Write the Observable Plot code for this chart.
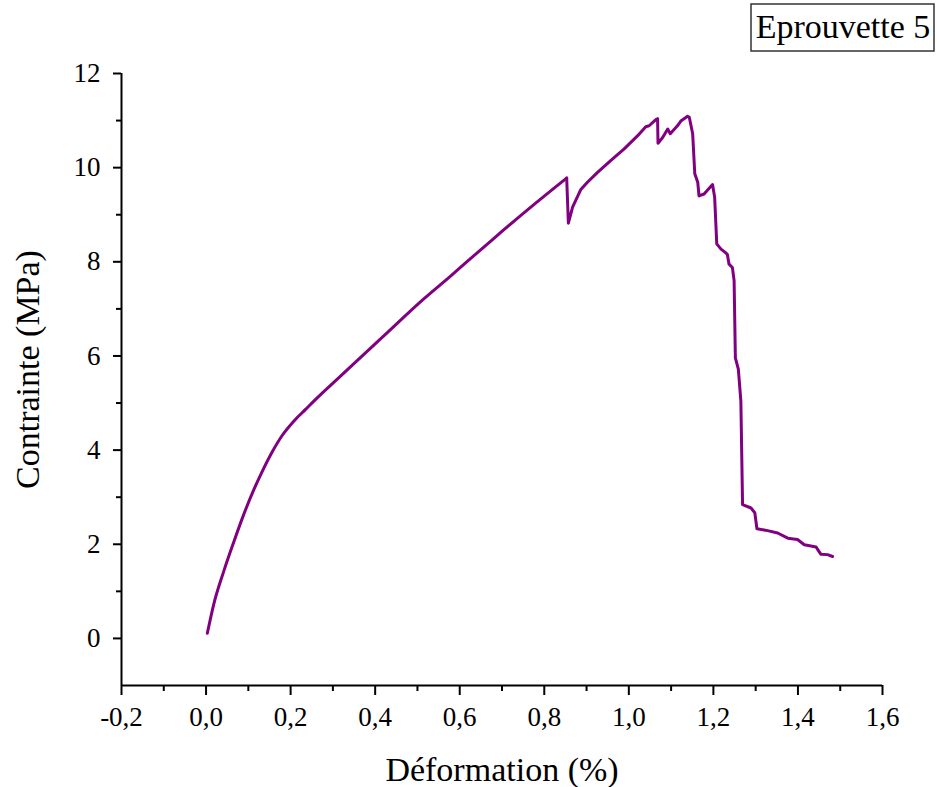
<!DOCTYPE html>
<html>
<head>
<meta charset="utf-8">
<script src="https://cdn.jsdelivr.net/npm/d3@7"></script>
<script src="https://cdn.jsdelivr.net/npm/@observablehq/plot@0.6"></script>
<style>
  body { margin: 0; background: #fff; }
  #chart { position: relative; width: 937px; height: 787px; }
</style>
</head>
<body>
<div id="chart"></div>
<script>
// smooth loading branch (up to first peak)
const strainRise = [0.003, 0.018, 0.042, 0.066, 0.089, 0.113, 0.133, 0.157, 0.180, 0.208, 0.236, 0.255, 0.318, 0.421, 0.515, 0.579, 0.622, 0.681, 0.776, 0.853];
const stressRise = [0.11, 0.72, 1.43, 2.06, 2.63, 3.16, 3.55, 3.97, 4.31, 4.62, 4.87, 5.04, 5.57, 6.43, 7.21, 7.70, 8.04, 8.50, 9.22, 9.78];
// cracking / failure branch (from first peak)
const strainFail = [0.853, 0.857, 0.867, 0.886, 0.902, 0.926, 0.957, 0.989, 1.021, 1.040, 1.048, 1.064, 1.068, 1.069, 1.080, 1.092, 1.098, 1.115, 1.123, 1.139, 1.143, 1.151, 1.156, 1.163, 1.166, 1.178, 1.198, 1.203, 1.208, 1.218, 1.228, 1.233, 1.237, 1.245, 1.249, 1.252, 1.259, 1.265, 1.269, 1.289, 1.298, 1.303, 1.328, 1.352, 1.376, 1.399, 1.415, 1.443, 1.454, 1.470, 1.482];
const stressFail = [9.78, 8.82, 9.16, 9.53, 9.69, 9.90, 10.15, 10.40, 10.68, 10.87, 10.89, 11.02, 11.04, 10.52, 10.64, 10.82, 10.72, 10.89, 10.99, 11.09, 11.07, 10.72, 9.87, 9.69, 9.40, 9.44, 9.64, 9.37, 8.38, 8.27, 8.20, 8.16, 7.95, 7.88, 7.60, 5.96, 5.72, 5.04, 2.84, 2.77, 2.67, 2.33, 2.29, 2.24, 2.13, 2.10, 1.99, 1.94, 1.79, 1.78, 1.74];
const xTicks = [-0.2, 0.0, 0.2, 0.4, 0.6, 0.8, 1.0, 1.2, 1.4, 1.6];
const xMinor = [-0.1, 0.1, 0.3, 0.5, 0.7, 0.9, 1.1, 1.3, 1.5];
const yTicks = [0, 2, 4, 6, 8, 10, 12];
const yMinor = [1, 3, 5, 7, 9, 11];
const xLabel = "Déformation (%)";
const yLabel = "Contrainte (MPa)";
const legendLabel = "Eprouvette 5";

const rise = strainRise.map((x, i) => ({x, y: stressRise[i]}));
const fail = strainFail.map((x, i) => ({x, y: stressFail[i]}));
const fmt = d => d.toFixed(1).replace(".", ",");
const serif = "'Liberation Serif', 'Times New Roman', serif";
const purple = "#800080";

const plot = Plot.plot({
  width: 937,
  height: 787,
  marginLeft: 121,
  marginRight: 55,
  marginTop: 73,
  marginBottom: 102,
  style: {fontFamily: serif, background: "#fff", color: "#000"},
  x: {domain: [-0.2, 1.6]},
  y: {domain: [-1, 12]},
  marks: [
    Plot.axisX(xTicks, {tickSize: 10, tickPadding: 11, fontSize: 27, tickFormat: fmt, strokeWidth: 2, label: null}),
    Plot.axisX(xMinor, {tickSize: 6, strokeWidth: 2, tickFormat: () => "", label: null}),
    Plot.axisY(yTicks, {tickSize: 8, tickPadding: 13, fontSize: 27, tickFormat: d => String(d), strokeWidth: 2, label: null}),
    Plot.axisY(yMinor, {tickSize: 5, strokeWidth: 2, tickFormat: () => "", label: null}),
    Plot.ruleX([-0.2], {y1: -1, y2: 12, stroke: "#000", strokeWidth: 2}),
    Plot.ruleY([-1], {x1: -0.2, x2: 1.6, stroke: "#000", strokeWidth: 2}),
    Plot.line(rise, {x: "x", y: "y", stroke: purple, strokeWidth: 3, curve: "monotone-x", strokeLinecap: "round"}),
    Plot.line(fail, {x: "x", y: "y", stroke: purple, strokeWidth: 3, strokeLinejoin: "round", strokeLinecap: "round"}),
    Plot.text([xLabel], {text: d => d, frameAnchor: "bottom", lineAnchor: "middle", textAnchor: "middle", dy: 85, fontSize: 34, fill: "#000"}),
    Plot.text([yLabel], {text: d => d, frameAnchor: "left", lineAnchor: "middle", textAnchor: "middle", rotate: -90, dx: -93.5, dy: -10, fontSize: 34, fill: "#000"}),
    Plot.text([legendLabel], {text: d => d, frameAnchor: "top-right", lineAnchor: "middle", textAnchor: "middle", dx: -39.5, dy: -46, fontSize: 34, fill: "#000"})
  ]
});

// legend frame around the "Eprouvette 5" label
const svg = d3.select(plot);
svg.insert("rect", ":first-child")
  .attr("x", 751).attr("y", 4).attr("width", 183).attr("height", 47)
  .attr("fill", "#fff").attr("stroke", "#333").attr("stroke-width", 1.5);

document.getElementById("chart").appendChild(plot);
</script>
</body>
</html>
